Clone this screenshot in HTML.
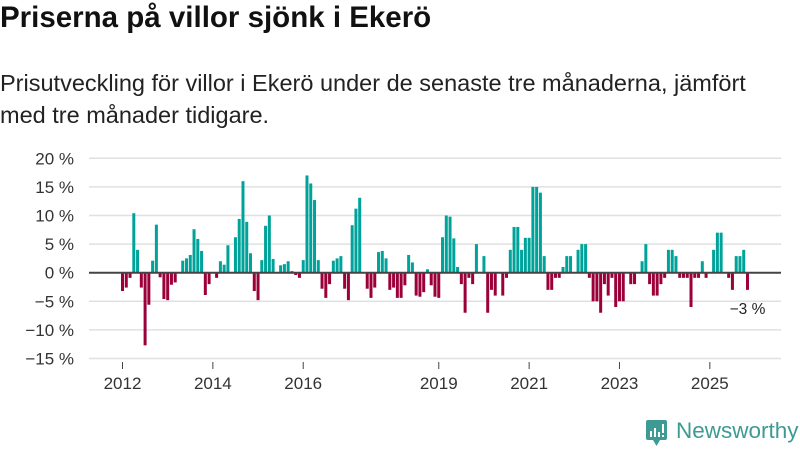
<!DOCTYPE html>
<html><head><meta charset="utf-8"><style>
body{margin:0;width:800px;height:450px;background:#fff;font-family:"Liberation Sans",sans-serif;color:#222;overflow:hidden;position:relative}
#title{position:absolute;left:0;top:1px;font-size:29.5px;font-weight:bold;color:#111;white-space:nowrap}
#sub{position:absolute;left:0;top:67px;font-size:23.5px;line-height:32px;color:#222;width:782px}
svg{position:absolute;left:0;top:0}
</style></head><body>
<div id="title">Priserna på villor sjönk i Ekerö</div>
<div id="sub">Prisutveckling för villor i Ekerö under de senaste tre månaderna, jämfört med tre månader tidigare.</div>
<svg id="chart" width="800" height="450"></svg>
<div style="position:absolute;left:646px;top:420px;">
<svg width="22" height="26" style="position:absolute;left:0;top:0"><rect x="0" y="0" width="21" height="20" rx="2" fill="#3d9b93"/><polygon points="7,20 14,20 10.5,26" fill="#3d9b93"/><rect x="4" y="11" width="2" height="6" fill="#fff"/><rect x="8" y="8" width="2" height="9" fill="#fff"/><rect x="12" y="12" width="2" height="5" fill="#fff"/><rect x="16" y="4" width="2" height="9" fill="#fff"/><rect x="16" y="15" width="2" height="2" fill="#fff"/></svg>
<span style="position:absolute;left:30px;top:-2px;font-size:22.5px;color:#3d9b93;white-space:nowrap">Newsworthy</span></div>
<script>
const values=[-3.2,-2.6,-0.9,10.4,4,-2.6,-12.7,-5.6,2.1,8.4,-0.8,-4.6,-4.8,-2.1,-1.7,0,2.1,2.5,3.1,7.6,5.9,3.8,-3.9,-2,0,-0.9,2,1.4,4.8,0,6.2,9.4,16,8.9,3.4,-3.2,-4.8,2.2,8.2,10,2.4,0,1.3,1.5,2,0.3,-0.4,-0.9,2.2,17,15.6,12.7,2.2,-2.8,-4.4,-2,2.1,2.5,2.9,-2.8,-4.8,8.3,11.2,13.1,0,-2.8,-4.4,-2.6,3.6,3.8,2.5,-3,-2.6,-4.4,-4.4,-2.2,3.1,1.8,-4,-4.2,-3.4,0.6,-2.2,-4.2,-4.4,6.2,10,9.8,6,1,-2,-7,-0.9,-2,5,0,2.9,-7,-3,-4,0,-4,-0.9,4,8,8,4,6.1,6.1,15,15,14,2.9,-3,-3,-0.9,-0.9,1,2.9,2.9,0,4,5,5,-0.9,-5,-5,-7,-2,-4,-0.9,-6,-5,-5,0,-2,-2,0,2,5,-2,-4,-4,-2,-0.9,4,4,2.9,-0.9,-0.9,-0.9,-6,-0.9,-0.9,2,-0.9,0,4,7,7,0,-0.9,-3,2.9,2.9,4,-3];
const yTicks=[20,15,10,5,0,-5,-10,-15];
const yearLabels=["2012","2014","2016","2019","2021","2023","2025"];
const yearIndex=[0,24,48,84,108,132,156];
const NS="http://www.w3.org/2000/svg";
const svg=document.getElementById('chart');
const x0=121,step=3.765,bw=3,gx1=89,gx2=781;
const y=v=>272.7-v*5.72;
const xb=i=>x0+i*step;
function mk(t,a){const e=document.createElementNS(NS,t);for(const k in a)e.setAttribute(k,a[k]);svg.appendChild(e);return e;}
yTicks.forEach(t=>{
  const l=mk('line',{x1:gx1,x2:gx2,y1:y(t),y2:y(t),stroke:'#e0e0e0','stroke-width':1.5});
  
  
  const tx=mk('text',{x:74,y:y(t)+6,'text-anchor':'end','font-size':17,fill:'#333','font-family':'Liberation Sans, sans-serif'});
  tx.textContent=(t<0?'\u2212'+(-t):t)+' %';
  
  
});
values.forEach((v,i)=>{
  if(v===0)return;
  const r=mk('rect',{x:xb(i),width:bw,y:Math.min(y(v),y(0)),height:Math.abs(y(v)-y(0)),fill:v>0?'#00a39a':'#9b0039'});
  
  
});
const z=mk('line',{x1:gx1,x2:gx2,y1:y(0),y2:y(0),stroke:'#444','stroke-width':2});


yearLabels.forEach((lab,k)=>{
  const cx=xb(yearIndex[k])+bw/2;
  const tk=mk('line',{x1:cx,x2:cx,y1:362,y2:369,stroke:'#444','stroke-width':1});
  
  
  const t=mk('text',{x:cx,y:389,'text-anchor':'middle','font-size':17,fill:'#333','font-family':'Liberation Sans, sans-serif'});
  t.textContent=lab;
  
  
});
const last=values.length-1;
const an=mk('text',{x:xb(last)+1.5,y:314,'text-anchor':'middle','font-size':15.5,fill:'#222','font-family':'Liberation Sans, sans-serif'});
an.textContent=(values[last]<0?'\u2212'+Math.round(-values[last]):Math.round(values[last]))+' %';


</script>
</body></html>
